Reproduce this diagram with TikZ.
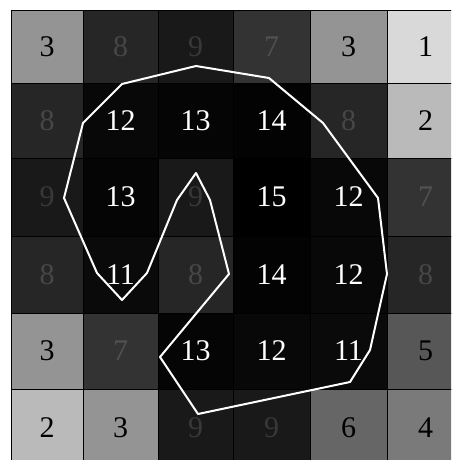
\documentclass[tikz,border=0pt]{standalone}
\usepackage{fontspec}
\setmainfont{Liberation Serif}
\begin{document}
\begin{tikzpicture}[x=1pt,y=-1pt,
  cellnum/.style={font=\fontsize{30}{30}\selectfont, inner sep=0pt},
  outline/.style={draw=white, line width=2pt, line join=round}]
\useasboundingbox (0,0) rectangle (451,460);
\fill[white] (0,0) rectangle (451,460);
\begin{scope}
\clip (0,0) rectangle (451,460);
\def\xs{{11,83,158,233,310,387,464}}
\def\ys{{10,83,158,236,313,389,466}}
% value -> gray levels
\colorlet{g1}{black!15}
\colorlet{g2}{black!27}
\colorlet{g3}{black!42}
\colorlet{g4}{black!52}
\colorlet{g5}{black!66}
\colorlet{g6}{black!60}
\colorlet{g7}{black!80}
\colorlet{g8}{black!85}
\colorlet{g9}{black!90}
\colorlet{g11}{black!96}
\colorlet{g12}{black!97}
\colorlet{g13}{black!98}
\colorlet{g14}{black!99}
\colorlet{g15}{black}
\colorlet{t1}{black}\colorlet{t2}{black}\colorlet{t3}{black}\colorlet{t4}{black}
\colorlet{t5}{black}\colorlet{t6}{black}
\colorlet{t7}{black!68}\colorlet{t8}{black!72}\colorlet{t9}{black!78}
\colorlet{t11}{white}\colorlet{t12}{white}\colorlet{t13}{white}\colorlet{t14}{white}\colorlet{t15}{white}
\foreach \row/\vals in {0/{3,8,9,7,3,1},1/{8,12,13,14,8,2},2/{9,13,9,15,12,7},3/{8,11,8,14,12,8},4/{3,7,13,12,11,5},5/{2,3,9,9,6,4}}{
  \foreach \v [count=\c from 0] in \vals {
    \pgfmathsetmacro{\xa}{\xs[\c]}
    \pgfmathsetmacro{\xb}{\xs[\c+1]}
    \pgfmathsetmacro{\ya}{\ys[\row]}
    \pgfmathsetmacro{\yb}{\ys[\row+1]}
    \fill[g\v, draw=black, line width=0.6pt] (\xa,\ya) rectangle (\xb,\yb);
    \node[cellnum, text=t\v] (n\row\c) at ({(\xa+\xb)/2},{(\ya+\yb)/2}) {\v};
  }
}
\end{scope}
\draw[outline] (196,66) -- (269,78) -- (323,123) -- (378,198) -- (387,274) -- (370,350) -- (350,382) -- (198,414) -- (160,357) -- (229,274) -- (210,200) -- (196,173) -- (177,200) -- (147,273) -- (122,300) -- (97,273) -- (64,198) -- (83,123) -- (122,84) -- cycle;
\end{tikzpicture}
\end{document}
